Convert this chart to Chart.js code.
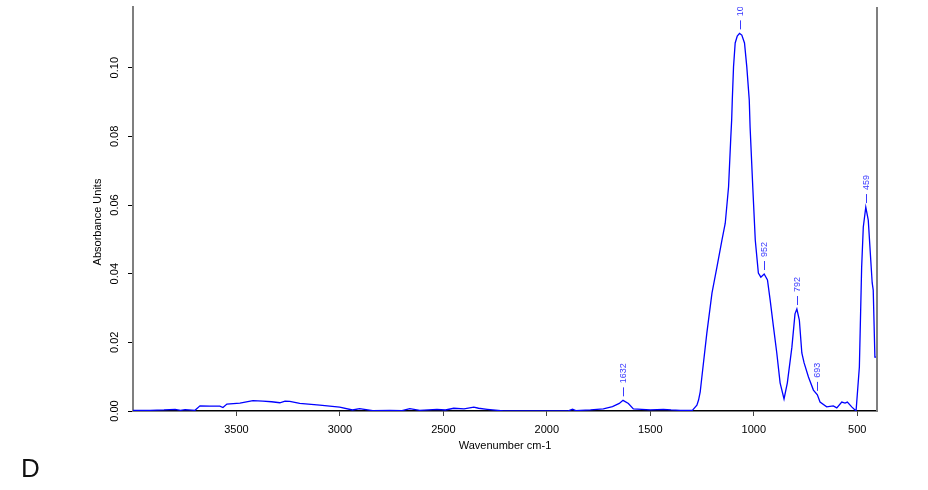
<!DOCTYPE html>
<html>
<head>
<meta charset="utf-8">
<script src="https://cdn.jsdelivr.net/npm/chart.js@4/dist/chart.umd.min.js"></script>
<style>
  html, body { margin: 0; padding: 0; background: #ffffff; }
  #wrap { position: relative; width: 928px; height: 490px; }
  canvas { display: block; }
</style>
</head>
<body>
<div id="wrap"><canvas id="c" width="928" height="490"></canvas></div>
<script>
// ---- data ----
const wavenumbers = [
  3999.6, 3917, 3850, 3796, 3770, 3748, 3700, 3676, 3628, 3580, 3565, 3546, 3483, 3420, 3372,
  3330, 3290, 3265, 3242, 3194, 3097, 3001, 2939, 2905, 2841, 2759, 2700, 2662, 2614, 2531,
  2490, 2450, 2400, 2353, 2330, 2288, 2209, 2100, 2030, 1900, 1876, 1860, 1838, 1789,
  1727, 1683, 1650, 1632, 1606, 1582, 1500, 1437, 1400, 1355, 1297, 1275, 1267, 1259, 1251,
  1227, 1202, 1178, 1154, 1138, 1122, 1111, 1107, 1104, 1098, 1090, 1080, 1069, 1058, 1045,
  1034, 1022, 1018, 1005, 993,
  978, 966, 950, 934, 921, 905, 889, 873, 854, 838, 816, 801, 792, 780, 768, 757, 736, 712,
  693, 680, 648, 616, 599, 575, 559, 548, 527, 506, 490, 479, 471, 459, 447, 435, 428, 423,
  415, 404.8
];
const absorbance = [
  0.0002, 0.0002, 0.0003, 0.0005, 0.0002, 0.0004, 0.0002, 0.0015, 0.0014, 0.0014, 0.0010, 0.0020, 0.0023, 0.0030, 0.0029,
  0.0027, 0.0024, 0.0029, 0.0028, 0.0022, 0.0017, 0.0011, 0.0003, 0.0007, 0.0001, 0.0002, 0.0001, 0.0007, 0.0002, 0.0005,
  0.0003, 0.0008, 0.0006, 0.0011, 0.0008, 0.0005, 0.0000, 0.0000, 0.0000, 0.0000, 0.0005, 0.0001, 0.0002, 0.0003,
  0.0006, 0.0013, 0.0022, 0.0031, 0.0022, 0.0006, 0.0003, 0.0005, 0.0003, 0.0002, 0.0002, 0.0017, 0.0032, 0.0056, 0.0099,
  0.0227, 0.0344, 0.0420, 0.0498, 0.0547, 0.0653, 0.0800, 0.0848, 0.0906, 0.1003, 0.1072, 0.1092, 0.1100, 0.1095, 0.1072,
  0.1003, 0.0906, 0.0827, 0.0652, 0.0498,
  0.0402, 0.0390, 0.0399, 0.0382, 0.0323, 0.0245, 0.0169, 0.0082, 0.0035, 0.0082, 0.0186, 0.0283, 0.0297, 0.0265, 0.0169, 0.0140, 0.0099, 0.0061,
  0.0047, 0.0026, 0.0012, 0.0015, 0.0009, 0.0026, 0.0023, 0.0026, 0.0012, 0.0000, 0.0128, 0.0419, 0.0536, 0.0594, 0.0556, 0.0440, 0.0373, 0.0352,
  0.0157, 0.0157
];
const xTickValues = [3500, 3000, 2500, 2000, 1500, 1000, 500];
const yTickValues = [0.00, 0.02, 0.04, 0.06, 0.08, 0.10];
const peakWavenumbers = [1632, 1069, 952, 792, 693, 459];
const peakLabels = ['1632', '1069', '952', '792', '693', '459'];
const xTitle = 'Wavenumber cm-1';
const yTitle = 'Absorbance Units';
const panelLetter = 'D';

const FONT = '"Liberation Sans", Arial, Helvetica, sans-serif';

function valueAt(wn) {
  let best = 0, bd = Infinity;
  for (let i = 0; i < wavenumbers.length; i++) {
    const d = Math.abs(wavenumbers[i] - wn);
    if (d < bd) { bd = d; best = i; }
  }
  return absorbance[best];
}

const decorPlugin = {
  id: 'decor',
  afterDraw(chart) {
    const ctx = chart.ctx;
    const xs = chart.scales.x, ys = chart.scales.y;
    const area = chart.chartArea;
    ctx.save();
    // right frame line
    ctx.strokeStyle = '#7f7f7f';
    ctx.lineWidth = 2;
    ctx.beginPath();
    ctx.moveTo(area.right, area.top);
    ctx.lineTo(area.right, area.bottom);
    ctx.stroke();

    // y tick labels (rotated)
    ctx.fillStyle = '#000';
    ctx.font = '11px ' + FONT;
    ctx.textAlign = 'center';
    ctx.textBaseline = 'middle';
    ys.ticks.forEach(t => {
      const py = ys.getPixelForValue(t.value);
      ctx.save();
      ctx.translate(115, py);
      ctx.rotate(-Math.PI / 2);
      ctx.fillText(t.value.toFixed(2), 0, 0);
      ctx.restore();
    });
    // y title
    ctx.save();
    ctx.translate(98, 222);
    ctx.rotate(-Math.PI / 2);
    ctx.fillText(yTitle, 0, 0);
    ctx.restore();
    // x title
    ctx.fillText(xTitle, (area.left + area.right) / 2, 446);

    // panel letter
    ctx.font = '26px ' + FONT;
    ctx.textAlign = 'left';
    ctx.textBaseline = 'alphabetic';
    ctx.fillStyle = '#111';
    ctx.fillText(panelLetter, 21, 477);
    ctx.restore();

    // peak labels, clipped to plot area
    ctx.save();
    ctx.beginPath();
    ctx.rect(area.left, area.top, area.right - area.left, area.bottom - area.top);
    ctx.clip();
    ctx.strokeStyle = '#3a3aff';
    ctx.fillStyle = '#3a3aff';
    ctx.lineWidth = 1;
    ctx.font = '9px ' + FONT;
    peakWavenumbers.forEach((wn, i) => {
      const px = Math.round(xs.getPixelForValue(wn)) + 0.5;
      const py = ys.getPixelForValue(valueAt(wn));
      ctx.beginPath();
      ctx.moveTo(px, py - 4);
      ctx.lineTo(px, py - 13);
      ctx.stroke();
      ctx.save();
      ctx.translate(px, py - 17);
      ctx.rotate(-Math.PI / 2);
      ctx.textAlign = 'left';
      ctx.textBaseline = 'middle';
      ctx.fillText(peakLabels[i], 0, 0);
      ctx.restore();
    });
    ctx.restore();
  }
};

new Chart(document.getElementById('c'), {
  type: 'line',
  data: {
    datasets: [{
      data: wavenumbers.map((w, i) => ({ x: w, y: absorbance[i] })),
      borderColor: '#0000ff',
      borderWidth: 1.3,
      pointRadius: 0,
      tension: 0,
      fill: false
    }]
  },
  options: {
    responsive: false,
    animation: false,
    events: [],
    layout: { padding: { left: 0, right: 51, top: 7, bottom: 0 } },
    plugins: { legend: { display: false }, tooltip: { enabled: false }, title: { display: false } },
    scales: {
      x: {
        type: 'linear',
        reverse: true,
        min: 404.8,
        max: 3999.6,
        afterBuildTicks: s => { s.ticks = xTickValues.map(v => ({ value: v })); },
        afterFit: s => { s.height = 79; },
        grid: { display: true, drawOnChartArea: false, drawTicks: true, tickLength: 5, color: '#444', lineWidth: 1 },
        border: { display: true, color: '#000', width: 1.5 },
        ticks: {
          padding: 7,
          color: '#000',
          font: { family: FONT, size: 11 },
          maxRotation: 0, minRotation: 0,
          callback: v => String(v)
        }
      },
      y: {
        type: 'linear',
        min: 0,
        max: 0.11768,
        afterBuildTicks: s => { s.ticks = yTickValues.map(v => ({ value: v })); },
        afterFit: s => { s.width = 133; },
        grid: { display: true, drawOnChartArea: false, drawTicks: true, tickLength: 5, color: '#000', lineWidth: 1 },
        border: { display: true, color: '#7f7f7f', width: 2 },
        ticks: { display: false }
      }
    }
  },
  plugins: [decorPlugin]
});
</script>
</body>
</html>
